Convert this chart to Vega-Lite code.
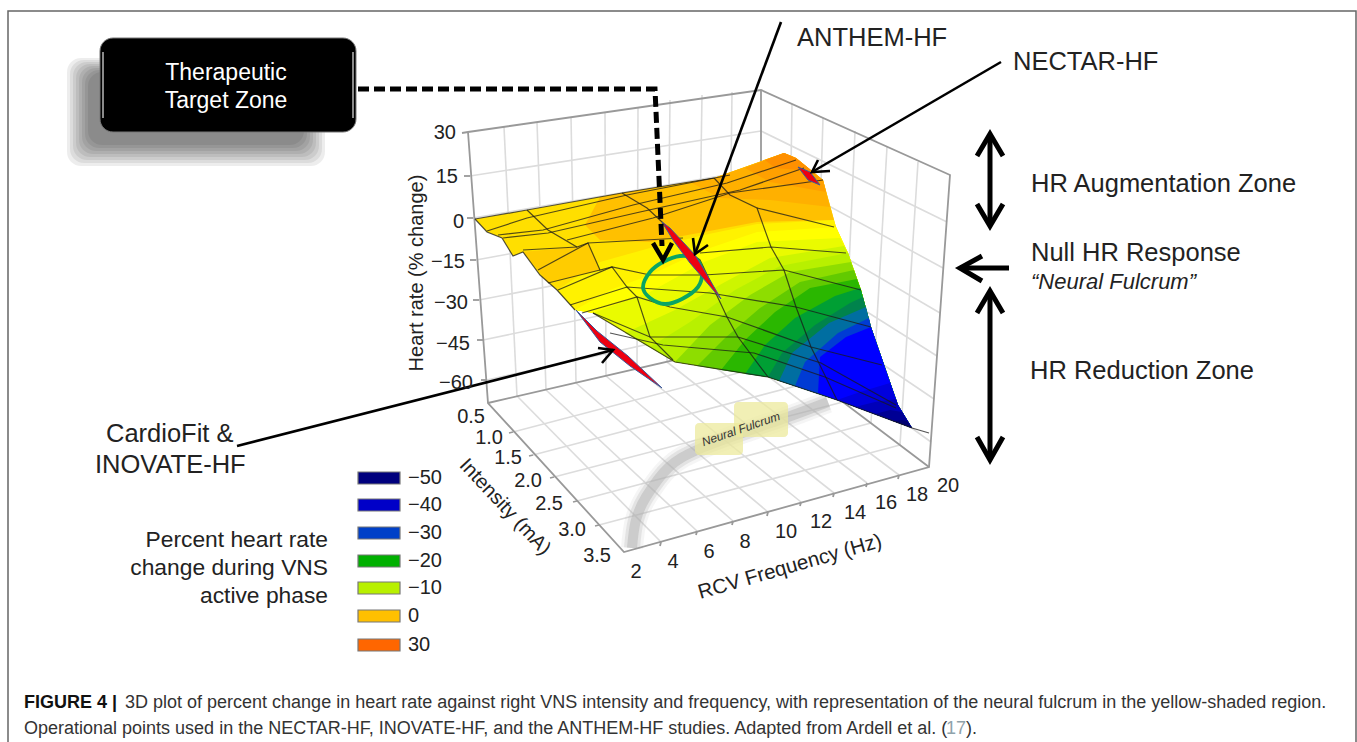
{"$schema":"https://vega.github.io/schema/vega-lite/v6.json","width":1357,"height":742,"padding":0,"autosize":{"type":"none"},"background":"white","config":{"view":{"stroke":null},"text":{"font":"Liberation Sans","color":"#222222"}},
"datasets":{
"frame":[{"g":1,"x":8,"y":742},{"g":1,"x":8,"y":11},{"g":1,"x":1356,"y":11},{"g":1,"x":1356,"y":742}],
"shadow":[{"x":67,"x2":325,"y":58,"y2":166},{"x":70,"x2":322,"y":60,"y2":163},{"x":73,"x2":319,"y":62,"y2":160},{"x":76,"x2":316,"y":64,"y2":157},{"x":79,"x2":313,"y":66,"y2":154},{"x":82,"x2":310,"y":68,"y2":151},{"x":85,"x2":307,"y":70,"y2":148},{"x":88,"x2":304,"y":72,"y2":145}],
"box":[{"x":100,"x2":356,"y":38,"y2":132}],
"boxshine":[{"g":1,"x":103,"y":52},{"g":1,"x":103,"y":118},{"g":2,"x":353,"y":52},{"g":2,"x":353,"y":118}],
"grid":[
{"g":1,"x":517,"y":396},{"g":1,"x":661,"y":542},{"g":2,"x":546,"y":390},{"g":2,"x":697,"y":531},{"g":3,"x":576,"y":383},{"g":3,"x":733,"y":521},{"g":4,"x":606,"y":376},{"g":4,"x":768,"y":512},{"g":5,"x":637,"y":369},{"g":5,"x":801,"y":502},{"g":6,"x":667,"y":362},{"g":6,"x":834,"y":493},{"g":7,"x":698,"y":354},{"g":7,"x":867,"y":483},{"g":8,"x":729,"y":347},{"g":8,"x":899,"y":475},
{"g":9,"x":513,"y":432},{"g":9,"x":788,"y":360},{"g":10,"x":533,"y":455},{"g":10,"x":815,"y":381},{"g":11,"x":554,"y":477},{"g":11,"x":843,"y":402},{"g":12,"x":577,"y":501},{"g":12,"x":871,"y":423},{"g":13,"x":599,"y":525},{"g":13,"x":900,"y":445},
{"g":14,"x":504,"y":127},{"g":14,"x":517,"y":396},{"g":15,"x":537,"y":122},{"g":15,"x":546,"y":390},{"g":16,"x":571,"y":117},{"g":16,"x":576,"y":383},{"g":17,"x":605,"y":112},{"g":17,"x":606,"y":376},{"g":18,"x":638,"y":107},{"g":18,"x":637,"y":369},{"g":19,"x":670,"y":100},{"g":19,"x":667,"y":362},{"g":20,"x":702,"y":95},{"g":20,"x":698,"y":354},{"g":21,"x":732,"y":92},{"g":21,"x":729,"y":347},
{"g":22,"x":470,"y":176},{"g":22,"x":761,"y":131},{"g":23,"x":473,"y":218},{"g":23,"x":761,"y":169},{"g":24,"x":476,"y":260},{"g":24,"x":761,"y":208},{"g":25,"x":479,"y":300},{"g":25,"x":761,"y":245},{"g":26,"x":483,"y":340},{"g":26,"x":761,"y":282},{"g":27,"x":487,"y":380},{"g":27,"x":761,"y":319},
{"g":28,"x":792,"y":104},{"g":28,"x":788,"y":360},{"g":29,"x":823,"y":118},{"g":29,"x":815,"y":381},{"g":30,"x":855,"y":131},{"g":30,"x":843,"y":402},{"g":31,"x":887,"y":147},{"g":31,"x":871,"y":423},{"g":32,"x":918,"y":162},{"g":32,"x":900,"y":445},
{"g":33,"x":761,"y":131},{"g":33,"x":947,"y":222},{"g":34,"x":761,"y":169},{"g":34,"x":943,"y":268},{"g":35,"x":761,"y":208},{"g":35,"x":940,"y":313},{"g":36,"x":761,"y":245},{"g":36,"x":937,"y":356},{"g":37,"x":761,"y":282},{"g":37,"x":934,"y":399},{"g":38,"x":761,"y":319},{"g":38,"x":931,"y":442}],
"edges":[
{"g":1,"x":462,"y":133},{"g":1,"x":468,"y":132},{"g":1,"x":761,"y":90},{"g":1,"x":950,"y":175},{"g":1,"x":929,"y":467},{"g":1,"x":624,"y":552},{"g":1,"x":488,"y":403},{"g":1,"x":468,"y":132},
{"g":2,"x":761,"y":90},{"g":2,"x":761,"y":340},{"g":3,"x":488,"y":403},{"g":3,"x":761,"y":340},{"g":3,"x":929,"y":467},
{"g":4,"x":464,"y":176},{"g":4,"x":470,"y":176},{"g":5,"x":467,"y":218},{"g":5,"x":473,"y":218},{"g":6,"x":470,"y":260},{"g":6,"x":476,"y":260},{"g":7,"x":473,"y":300},{"g":7,"x":479,"y":300},{"g":8,"x":477,"y":340},{"g":8,"x":483,"y":340},{"g":9,"x":481,"y":380},{"g":9,"x":487,"y":380},
{"g":10,"x":661,"y":542},{"g":10,"x":660,"y":546},{"g":11,"x":697,"y":531},{"g":11,"x":696,"y":535},{"g":12,"x":733,"y":521},{"g":12,"x":732,"y":525},{"g":13,"x":768,"y":512},{"g":13,"x":767,"y":516},{"g":14,"x":801,"y":502},{"g":14,"x":800,"y":506},{"g":15,"x":834,"y":493},{"g":15,"x":833,"y":497},{"g":16,"x":867,"y":483},{"g":16,"x":866,"y":487},{"g":17,"x":899,"y":475},{"g":17,"x":898,"y":479},
{"g":18,"x":513,"y":432},{"g":18,"x":509,"y":433},{"g":19,"x":533,"y":455},{"g":19,"x":529,"y":456},{"g":20,"x":554,"y":477},{"g":20,"x":550,"y":478},{"g":21,"x":577,"y":501},{"g":21,"x":573,"y":502},{"g":22,"x":599,"y":525},{"g":22,"x":595,"y":526}],
"fulcrum":[{"g":1,"x":632,"y":548},{"g":1,"x":636,"y":520},{"g":1,"x":646,"y":497},{"g":1,"x":669,"y":467},{"g":1,"x":697,"y":450},{"g":1,"x":745,"y":432},{"g":1,"x":788,"y":417},{"g":1,"x":828,"y":402}],
"highlight":[{"x":695,"x2":743,"y":423,"y2":455},{"x":734,"x2":788,"y":402,"y2":437}],
"surface":[
{"g":1,"hr":-2.5,"x":475,"y":219},{"g":1,"hr":-2.5,"x":527,"y":210},{"g":1,"hr":-2.5,"x":622,"y":193},{"g":1,"hr":-2.5,"x":714,"y":178},{"g":1,"hr":-2.5,"x":784,"y":153},{"g":1,"hr":-2.5,"x":796,"y":158},{"g":1,"hr":-2.5,"x":823,"y":180},{"g":1,"hr":-2.5,"x":836,"y":227},{"g":1,"hr":-2.5,"x":848,"y":253},{"g":1,"hr":-2.5,"x":861,"y":290},{"g":1,"hr":-2.5,"x":871,"y":327},{"g":1,"hr":-2.5,"x":898,"y":405},{"g":1,"hr":-2.5,"x":912,"y":428},{"g":1,"hr":-2.5,"x":837,"y":400},{"g":1,"hr":-2.5,"x":768,"y":377},{"g":1,"hr":-2.5,"x":675,"y":362},{"g":1,"hr":-2.5,"x":593,"y":313},{"g":1,"hr":-2.5,"x":575,"y":310},{"g":1,"hr":-2.5,"x":557,"y":290},{"g":1,"hr":-2.5,"x":540,"y":275},{"g":1,"hr":-2.5,"x":523,"y":252},{"g":1,"hr":-2.5,"x":513,"y":256},{"g":1,"hr":-2.5,"x":502,"y":238},{"g":1,"hr":-2.5,"x":487,"y":232},
{"g":2,"hr":0,"x":600,"y":197},{"g":2,"hr":0,"x":622,"y":193},{"g":2,"hr":0,"x":714,"y":178},{"g":2,"hr":0,"x":784,"y":153},{"g":2,"hr":0,"x":796,"y":158},{"g":2,"hr":0,"x":823,"y":180},{"g":2,"hr":0,"x":834,"y":220},{"g":2,"hr":0,"x":757,"y":222},{"g":2,"hr":0,"x":704,"y":232},{"g":2,"hr":0,"x":650,"y":242},{"g":2,"hr":0,"x":600,"y":240},{"g":2,"hr":0,"x":585,"y":225},
{"g":3,"hr":6,"x":690,"y":182},{"g":3,"hr":6,"x":714,"y":178},{"g":3,"hr":6,"x":784,"y":153},{"g":3,"hr":6,"x":796,"y":158},{"g":3,"hr":6,"x":823,"y":180},{"g":3,"hr":6,"x":830,"y":207},{"g":3,"hr":6,"x":770,"y":200},{"g":3,"hr":6,"x":720,"y":198},
{"g":4,"hr":12,"x":745,"y":168},{"g":4,"hr":12,"x":784,"y":153},{"g":4,"hr":12,"x":796,"y":158},{"g":4,"hr":12,"x":823,"y":180},{"g":4,"hr":12,"x":826,"y":192},{"g":4,"hr":12,"x":770,"y":182},
{"g":5,"hr":20,"x":765,"y":160},{"g":5,"hr":20,"x":784,"y":153},{"g":5,"hr":20,"x":796,"y":158},{"g":5,"hr":20,"x":812,"y":171},{"g":5,"hr":20,"x":775,"y":168},
{"g":6,"hr":-4,"x":557,"y":290},{"g":6,"hr":-4,"x":600,"y":262},{"g":6,"hr":-4,"x":650,"y":248},{"g":6,"hr":-4,"x":704,"y":235},{"g":6,"hr":-4,"x":757,"y":224},{"g":6,"hr":-4,"x":834,"y":220},{"g":6,"hr":-4,"x":836,"y":227},{"g":6,"hr":-4,"x":848,"y":253},{"g":6,"hr":-4,"x":861,"y":290},{"g":6,"hr":-4,"x":871,"y":327},{"g":6,"hr":-4,"x":898,"y":405},{"g":6,"hr":-4,"x":912,"y":428},{"g":6,"hr":-4,"x":837,"y":400},{"g":6,"hr":-4,"x":768,"y":377},{"g":6,"hr":-4,"x":675,"y":362},{"g":6,"hr":-4,"x":593,"y":313},{"g":6,"hr":-4,"x":575,"y":310},
{"g":7,"hr":-5,"x":575,"y":310},{"g":7,"hr":-5,"x":610,"y":290},{"g":7,"hr":-5,"x":650,"y":275},{"g":7,"hr":-5,"x":704,"y":250},{"g":7,"hr":-5,"x":757,"y":232},{"g":7,"hr":-5,"x":836,"y":227},{"g":7,"hr":-5,"x":848,"y":253},{"g":7,"hr":-5,"x":861,"y":290},{"g":7,"hr":-5,"x":871,"y":327},{"g":7,"hr":-5,"x":898,"y":405},{"g":7,"hr":-5,"x":912,"y":428},{"g":7,"hr":-5,"x":837,"y":400},{"g":7,"hr":-5,"x":768,"y":377},{"g":7,"hr":-5,"x":675,"y":362},{"g":7,"hr":-5,"x":593,"y":313},
{"g":8,"hr":-6.5,"x":593,"y":313},{"g":8,"hr":-6.5,"x":650,"y":292},{"g":8,"hr":-6.5,"x":704,"y":262},{"g":8,"hr":-6.5,"x":757,"y":242},{"g":8,"hr":-6.5,"x":840,"y":238},{"g":8,"hr":-6.5,"x":848,"y":253},{"g":8,"hr":-6.5,"x":861,"y":290},{"g":8,"hr":-6.5,"x":871,"y":327},{"g":8,"hr":-6.5,"x":898,"y":405},{"g":8,"hr":-6.5,"x":912,"y":428},{"g":8,"hr":-6.5,"x":837,"y":400},{"g":8,"hr":-6.5,"x":768,"y":377},{"g":8,"hr":-6.5,"x":675,"y":362},
{"g":9,"hr":-8.5,"x":625,"y":333},{"g":9,"hr":-8.5,"x":675,"y":310},{"g":9,"hr":-8.5,"x":725,"y":282},{"g":9,"hr":-8.5,"x":770,"y":258},{"g":9,"hr":-8.5,"x":844,"y":246},{"g":9,"hr":-8.5,"x":848,"y":253},{"g":9,"hr":-8.5,"x":861,"y":290},{"g":9,"hr":-8.5,"x":871,"y":327},{"g":9,"hr":-8.5,"x":898,"y":405},{"g":9,"hr":-8.5,"x":912,"y":428},{"g":9,"hr":-8.5,"x":837,"y":400},{"g":9,"hr":-8.5,"x":768,"y":377},{"g":9,"hr":-8.5,"x":675,"y":362},
{"g":10,"hr":-10,"x":650,"y":347},{"g":10,"hr":-10,"x":690,"y":322},{"g":10,"hr":-10,"x":735,"y":290},{"g":10,"hr":-10,"x":780,"y":266},{"g":10,"hr":-10,"x":848,"y":253},{"g":10,"hr":-10,"x":861,"y":290},{"g":10,"hr":-10,"x":871,"y":327},{"g":10,"hr":-10,"x":898,"y":405},{"g":10,"hr":-10,"x":912,"y":428},{"g":10,"hr":-10,"x":837,"y":400},{"g":10,"hr":-10,"x":768,"y":377},{"g":10,"hr":-10,"x":675,"y":362},
{"g":11,"hr":-13,"x":675,"y":362},{"g":11,"hr":-13,"x":710,"y":325},{"g":11,"hr":-13,"x":750,"y":295},{"g":11,"hr":-13,"x":790,"y":272},{"g":11,"hr":-13,"x":851,"y":262},{"g":11,"hr":-13,"x":861,"y":290},{"g":11,"hr":-13,"x":871,"y":327},{"g":11,"hr":-13,"x":898,"y":405},{"g":11,"hr":-13,"x":912,"y":428},{"g":11,"hr":-13,"x":837,"y":400},{"g":11,"hr":-13,"x":768,"y":377},
{"g":12,"hr":-16,"x":697,"y":366},{"g":12,"hr":-16,"x":725,"y":338},{"g":12,"hr":-16,"x":760,"y":308},{"g":12,"hr":-16,"x":800,"y":282},{"g":12,"hr":-16,"x":854,"y":270},{"g":12,"hr":-16,"x":861,"y":290},{"g":12,"hr":-16,"x":871,"y":327},{"g":12,"hr":-16,"x":898,"y":405},{"g":12,"hr":-16,"x":912,"y":428},{"g":12,"hr":-16,"x":837,"y":400},{"g":12,"hr":-16,"x":768,"y":377},
{"g":13,"hr":-19,"x":721,"y":370},{"g":13,"hr":-19,"x":745,"y":340},{"g":13,"hr":-19,"x":775,"y":312},{"g":13,"hr":-19,"x":810,"y":288},{"g":13,"hr":-19,"x":857,"y":279},{"g":13,"hr":-19,"x":861,"y":290},{"g":13,"hr":-19,"x":871,"y":327},{"g":13,"hr":-19,"x":898,"y":405},{"g":13,"hr":-19,"x":912,"y":428},{"g":13,"hr":-19,"x":837,"y":400},{"g":13,"hr":-19,"x":768,"y":377},
{"g":14,"hr":-22,"x":745,"y":374},{"g":14,"hr":-22,"x":765,"y":345},{"g":14,"hr":-22,"x":795,"y":318},{"g":14,"hr":-22,"x":835,"y":296},{"g":14,"hr":-22,"x":860,"y":288},{"g":14,"hr":-22,"x":861,"y":290},{"g":14,"hr":-22,"x":871,"y":327},{"g":14,"hr":-22,"x":898,"y":405},{"g":14,"hr":-22,"x":912,"y":428},{"g":14,"hr":-22,"x":837,"y":400},{"g":14,"hr":-22,"x":768,"y":377},
{"g":15,"hr":-25,"x":768,"y":377},{"g":15,"hr":-25,"x":782,"y":353},{"g":15,"hr":-25,"x":815,"y":325},{"g":15,"hr":-25,"x":850,"y":303},{"g":15,"hr":-25,"x":863,"y":297},{"g":15,"hr":-25,"x":871,"y":327},{"g":15,"hr":-25,"x":898,"y":405},{"g":15,"hr":-25,"x":912,"y":428},{"g":15,"hr":-25,"x":837,"y":400},
{"g":16,"hr":-28,"x":779,"y":381},{"g":16,"hr":-28,"x":792,"y":353},{"g":16,"hr":-28,"x":829,"y":323},{"g":16,"hr":-28,"x":866,"y":307},{"g":16,"hr":-28,"x":871,"y":327},{"g":16,"hr":-28,"x":898,"y":405},{"g":16,"hr":-28,"x":912,"y":428},{"g":16,"hr":-28,"x":837,"y":400},
{"g":17,"hr":-31,"x":795,"y":386},{"g":17,"hr":-31,"x":805,"y":362},{"g":17,"hr":-31,"x":838,"y":333},{"g":17,"hr":-31,"x":869,"y":318},{"g":17,"hr":-31,"x":871,"y":327},{"g":17,"hr":-31,"x":898,"y":405},{"g":17,"hr":-31,"x":912,"y":428},{"g":17,"hr":-31,"x":837,"y":400},
{"g":18,"hr":-35,"x":818,"y":393},{"g":18,"hr":-35,"x":820,"y":357},{"g":18,"hr":-35,"x":846,"y":337},{"g":18,"hr":-35,"x":871,"y":327},{"g":18,"hr":-35,"x":898,"y":405},{"g":18,"hr":-35,"x":912,"y":428},{"g":18,"hr":-35,"x":837,"y":400},
{"g":19,"hr":-38,"x":837,"y":400},{"g":19,"hr":-38,"x":860,"y":392},{"g":19,"hr":-38,"x":890,"y":383},{"g":19,"hr":-38,"x":898,"y":405},{"g":19,"hr":-38,"x":912,"y":428},
{"g":20,"hr":-42,"x":855,"y":407},{"g":20,"hr":-42,"x":875,"y":402},{"g":20,"hr":-42,"x":896,"y":399},{"g":20,"hr":-42,"x":898,"y":405},{"g":20,"hr":-42,"x":912,"y":428},
{"g":21,"hr":-47,"x":875,"y":414},{"g":21,"hr":-47,"x":890,"y":410},{"g":21,"hr":-47,"x":902,"y":412},{"g":21,"hr":-47,"x":912,"y":428},
{"g":22,"hr":-52,"x":893,"y":421},{"g":22,"hr":-52,"x":902,"y":420},{"g":22,"hr":-52,"x":907,"y":421},{"g":22,"hr":-52,"x":912,"y":428},
{"g":23,"hr":-1,"x":523,"y":252},{"g":23,"hr":-1,"x":577,"y":247},{"g":23,"hr":-1,"x":588,"y":243},{"g":23,"hr":-1,"x":600,"y":270},{"g":23,"hr":-1,"x":548,"y":283},{"g":23,"hr":-1,"x":538,"y":270}],
"mesh":[
{"g":1,"x":527,"y":210},{"g":1,"x":548,"y":230},{"g":1,"x":577,"y":247},{"g":1,"x":588,"y":243},{"g":1,"x":600,"y":270},{"g":1,"x":612,"y":267},{"g":1,"x":627,"y":287},{"g":1,"x":637,"y":297},{"g":1,"x":650,"y":337},{"g":1,"x":673,"y":360},
{"g":2,"x":622,"y":193},{"g":2,"x":647,"y":208},{"g":2,"x":662,"y":222},{"g":2,"x":682,"y":247},{"g":2,"x":700,"y":260},{"g":2,"x":711,"y":283},{"g":2,"x":727,"y":317},{"g":2,"x":738,"y":337},{"g":2,"x":768,"y":377},
{"g":3,"x":714,"y":178},{"g":3,"x":730,"y":195},{"g":3,"x":757,"y":208},{"g":3,"x":771,"y":247},{"g":3,"x":784,"y":270},{"g":3,"x":796,"y":307},{"g":3,"x":811,"y":347},{"g":3,"x":837,"y":400},
{"g":4,"x":487,"y":231},{"g":4,"x":527,"y":218},{"g":4,"x":627,"y":195},{"g":4,"x":730,"y":175},
{"g":5,"x":498,"y":235},{"g":5,"x":543,"y":230},{"g":5,"x":633,"y":205},{"g":5,"x":727,"y":183},{"g":5,"x":796,"y":160},
{"g":6,"x":503,"y":238},{"g":6,"x":548,"y":233},{"g":6,"x":640,"y":212},{"g":6,"x":740,"y":190},{"g":6,"x":804,"y":168},
{"g":7,"x":567,"y":240},{"g":7,"x":653,"y":218},{"g":7,"x":730,"y":193},{"g":7,"x":823,"y":180},
{"g":8,"x":523,"y":250},{"g":8,"x":577,"y":247},
{"g":17,"x":538,"y":270},{"g":17,"x":588,"y":243},{"g":17,"x":683,"y":238},
{"g":18,"x":548,"y":283},{"g":18,"x":600,"y":270},
{"g":19,"x":558,"y":290},{"g":19,"x":612,"y":267},{"g":19,"x":650,"y":275},{"g":19,"x":704,"y":275},{"g":19,"x":784,"y":270},{"g":19,"x":861,"y":290},
{"g":9,"x":700,"y":253},{"g":9,"x":771,"y":247},{"g":9,"x":846,"y":253},
{"g":10,"x":757,"y":208},{"g":10,"x":834,"y":227},
{"g":12,"x":570,"y":305},{"g":12,"x":627,"y":287},{"g":12,"x":710,"y":293},{"g":12,"x":796,"y":307},{"g":12,"x":871,"y":327},
{"g":13,"x":582,"y":313},{"g":13,"x":637,"y":297},{"g":13,"x":670,"y":307},{"g":13,"x":727,"y":317},{"g":13,"x":811,"y":347},{"g":13,"x":882,"y":365},
{"g":14,"x":593,"y":313},{"g":14,"x":650,"y":337},{"g":14,"x":738,"y":337},{"g":14,"x":821,"y":363},{"g":14,"x":896,"y":405},
{"g":15,"x":610,"y":333},{"g":15,"x":663,"y":345},{"g":15,"x":754,"y":353},{"g":15,"x":825,"y":377},{"g":15,"x":896,"y":408},
{"g":16,"x":912,"y":428},{"g":16,"x":929,"y":433},
{"g":20,"x":475,"y":219},{"g":20,"x":527,"y":210},{"g":20,"x":622,"y":193},{"g":20,"x":714,"y":178},
{"g":21,"x":475,"y":219},{"g":21,"x":487,"y":232},{"g":21,"x":502,"y":238},{"g":21,"x":513,"y":256},{"g":21,"x":523,"y":252},{"g":21,"x":540,"y":275},{"g":21,"x":557,"y":290},{"g":21,"x":575,"y":310},
{"g":22,"x":593,"y":313},{"g":22,"x":675,"y":362},{"g":22,"x":768,"y":377},{"g":22,"x":837,"y":400},{"g":22,"x":912,"y":428}],
"sliver":[
{"g":1,"x":662,"y":222},{"g":1,"x":670,"y":228},{"g":1,"x":695,"y":255},{"g":1,"x":703,"y":268},{"g":1,"x":721,"y":299},{"g":1,"x":690,"y":263},{"g":1,"x":673,"y":240},{"g":1,"x":662,"y":222},
{"g":2,"x":576,"y":310},{"g":2,"x":597,"y":331},{"g":2,"x":628,"y":356},{"g":2,"x":662,"y":388},{"g":2,"x":630,"y":366},{"g":2,"x":600,"y":342},{"g":2,"x":576,"y":310},
{"g":3,"x":798,"y":167},{"g":3,"x":810,"y":172},{"g":3,"x":820,"y":185},{"g":3,"x":808,"y":180},{"g":3,"x":798,"y":167}],
"ellipse":[{"g":1,"x":643,"y":287},{"g":1,"x":650,"y":272},{"g":1,"x":663,"y":262},{"g":1,"x":680,"y":256},{"g":1,"x":696,"y":259},{"g":1,"x":702,"y":272},{"g":1,"x":698,"y":287},{"g":1,"x":682,"y":299},{"g":1,"x":665,"y":304},{"g":1,"x":650,"y":298}],
"arrows":[
{"g":1,"x":781,"y":22},{"g":1,"x":695,"y":254},{"g":2,"x":693,"y":238},{"g":2,"x":695,"y":254},{"g":2,"x":708,"y":245},
{"g":3,"x":1001,"y":62},{"g":3,"x":812,"y":172},{"g":4,"x":818,"y":160},{"g":4,"x":812,"y":172},{"g":4,"x":830,"y":171},
{"g":5,"x":237,"y":446},{"g":5,"x":613,"y":350},{"g":6,"x":598,"y":348},{"g":6,"x":613,"y":350},{"g":6,"x":602,"y":363}],
"dashed":[{"g":1,"x":358,"y":89},{"g":1,"x":655,"y":89},{"g":1,"x":662,"y":246}],
"dashedHead":[{"g":1,"x":653,"y":243},{"g":1,"x":663,"y":260},{"g":1,"x":672,"y":243}],
"zones":[
{"g":1,"x":990,"y":134},{"g":1,"x":990,"y":225},{"g":2,"x":977,"y":156},{"g":2,"x":990,"y":134},{"g":2,"x":1003,"y":156},{"g":3,"x":977,"y":204},{"g":3,"x":990,"y":226},{"g":3,"x":1003,"y":204},
{"g":4,"x":1009,"y":268},{"g":4,"x":960,"y":268},{"g":5,"x":982,"y":256},{"g":5,"x":960,"y":268},{"g":5,"x":982,"y":281},
{"g":6,"x":990,"y":291},{"g":6,"x":990,"y":459},{"g":7,"x":977,"y":313},{"g":7,"x":990,"y":291},{"g":7,"x":1003,"y":313},{"g":8,"x":977,"y":437},{"g":8,"x":990,"y":460},{"g":8,"x":1003,"y":437}],
"legend":[
{"hr":-50,"label":"−50","x":358,"x2":400,"y":472,"y2":484,"lx":408,"ly":478},
{"hr":-40,"label":"−40","x":358,"x2":400,"y":499,"y2":511,"lx":408,"ly":505},
{"hr":-30,"label":"−30","x":358,"x2":400,"y":527,"y2":539,"lx":408,"ly":533},
{"hr":-20,"label":"−20","x":358,"x2":400,"y":555,"y2":567,"lx":408,"ly":561},
{"hr":-10,"label":"−10","x":358,"x2":400,"y":582,"y2":594,"lx":408,"ly":588},
{"hr":0,"label":"0","x":358,"x2":400,"y":610,"y2":622,"lx":408,"ly":616},
{"hr":30,"label":"30","x":358,"x2":400,"y":639,"y2":651,"lx":408,"ly":645}],
"zticks":[{"label":"30","x":456,"y":133},{"label":"15","x":458,"y":177},{"label":"0","x":464,"y":222},{"label":"−15","x":465,"y":262},{"label":"−30","x":468,"y":303},{"label":"−45","x":470,"y":344},{"label":"−60","x":473,"y":383},
{"label":"0.5","x":485,"y":417},{"label":"1.0","x":503,"y":438},{"label":"1.5","x":522,"y":458},{"label":"2.0","x":542,"y":481},{"label":"2.5","x":563,"y":504},{"label":"3.0","x":586,"y":530},{"label":"3.5","x":611,"y":556}],
"fticks":[{"label":"2","x":636,"y":572},{"label":"4","x":673,"y":562},{"label":"6","x":709,"y":552},{"label":"8","x":745,"y":542},{"label":"10","x":786,"y":532},{"label":"12","x":821,"y":522},{"label":"14","x":855,"y":513},{"label":"16","x":886,"y":503},{"label":"18","x":917,"y":495},{"label":"20","x":948,"y":486}],
"big":[{"label":"ANTHEM-HF","x":797,"y":38},{"label":"NECTAR-HF","x":1013,"y":62},{"label":"HR Augmentation Zone","x":1031,"y":184},{"label":"Null HR Response","x":1031,"y":253},{"label":"HR Reduction Zone","x":1030,"y":371},{"label":"CardioFit &","x":106,"y":434},{"label":"INOVATE-HF","x":95,"y":465}],
"boxtext":[{"label":"Therapeutic","x":226,"y":73},{"label":"Target Zone","x":226,"y":101}],
"pct":[{"label":"Percent heart rate","x":328,"y":540},{"label":"change during VNS","x":328,"y":568},{"label":"active phase","x":328,"y":596}],
"nf":[{"label":"“Neural Fulcrum”","x":1031,"y":282}],
"ztitle":[{"label":"Heart rate (% change)","x":417,"y":273}],
"ititle":[{"label":"Intensity (mA)","x":505,"y":507}],
"ftitle":[{"label":"RCV Frequency (Hz)","x":790,"y":567}],
"nftext":[{"label":"Neural Fulcrum","x":741,"y":429}],
"capb":[{"label":"FIGURE 4 |","x":24,"y":703}],
"cap":[{"label":"3D plot of percent change in heart rate against right VNS intensity and frequency, with representation of the neural fulcrum in the yellow-shaded region.","x":125,"y":703},{"label":"Operational points used in the NECTAR-HF, INOVATE-HF, and the ANTHEM-HF studies. Adapted from Ardell et al. (","x":24,"y":729},{"label":").","x":966,"y":729}],
"capref":[{"label":"17","x":946,"y":729}]
},
"encoding":{"x":{"field":"x","type":"quantitative","scale":{"domain":[0,1357],"nice":false,"zero":false},"axis":null},"y":{"field":"y","type":"quantitative","scale":{"domain":[742,0],"nice":false,"zero":false},"axis":null}},
"layer":[
{"data":{"name":"frame"},"transform":[{"window":[{"op":"row_number","as":"i"}]}],"mark":{"type":"line","stroke":"#666666","strokeWidth":1.5},"encoding":{"detail":{"field":"g"},"order":{"field":"i","type":"quantitative"}}},
{"data":{"name":"shadow"},"mark":{"type":"rect","fill":"#000000","opacity":0.07,"cornerRadius":14},"encoding":{"x2":{"field":"x2"},"y2":{"field":"y2"}}},
{"data":{"name":"box"},"mark":{"type":"rect","fill":"#000000","stroke":"#777777","strokeWidth":1,"cornerRadius":13},"encoding":{"x2":{"field":"x2"},"y2":{"field":"y2"}}},
{"data":{"name":"boxshine"},"transform":[{"window":[{"op":"row_number","as":"i"}]}],"mark":{"type":"line","stroke":"#8a8a8a","strokeWidth":2},"encoding":{"detail":{"field":"g"},"order":{"field":"i","type":"quantitative"}}},
{"data":{"name":"boxtext"},"mark":{"type":"text","align":"center","baseline":"middle","fontSize":23,"color":"#ffffff"},"encoding":{"text":{"field":"label"}}},
{"data":{"name":"grid"},"transform":[{"window":[{"op":"row_number","as":"i"}]}],"mark":{"type":"line","stroke":"#dcdcdc","strokeWidth":1.6},"encoding":{"detail":{"field":"g"},"order":{"field":"i","type":"quantitative"}}},
{"data":{"name":"fulcrum"},"transform":[{"window":[{"op":"row_number","as":"i"}]}],"mark":{"type":"line","stroke":"#b0b0b0","strokeWidth":22,"opacity":0.12,"interpolate":"cardinal"},"encoding":{"detail":{"field":"g"},"order":{"field":"i","type":"quantitative"}}},
{"data":{"name":"fulcrum"},"transform":[{"window":[{"op":"row_number","as":"i"}]}],"mark":{"type":"line","stroke":"#b0b0b0","strokeWidth":16,"opacity":0.25,"interpolate":"cardinal"},"encoding":{"detail":{"field":"g"},"order":{"field":"i","type":"quantitative"}}},
{"data":{"name":"fulcrum"},"transform":[{"window":[{"op":"row_number","as":"i"}]}],"mark":{"type":"line","stroke":"#b0b0b0","strokeWidth":10,"opacity":0.45,"interpolate":"cardinal"},"encoding":{"detail":{"field":"g"},"order":{"field":"i","type":"quantitative"}}},
{"data":{"name":"edges"},"transform":[{"window":[{"op":"row_number","as":"i"}]}],"mark":{"type":"line","stroke":"#999999","strokeWidth":1.8},"encoding":{"detail":{"field":"g"},"order":{"field":"i","type":"quantitative"}}},
{"data":{"name":"highlight"},"mark":{"type":"rect","fill":"#ecea9c","opacity":0.75,"cornerRadius":4},"encoding":{"x2":{"field":"x2"},"y2":{"field":"y2"}}},
{"data":{"name":"nftext"},"mark":{"type":"text","align":"center","baseline":"middle","fontSize":12,"fontStyle":"italic","angle":341,"color":"#333333"},"encoding":{"text":{"field":"label"}}},
{"data":{"name":"surface"},"transform":[{"window":[{"op":"row_number","as":"i"}]}],"mark":{"type":"line","strokeWidth":0},"encoding":{"detail":{"field":"g"},"order":{"field":"i","type":"quantitative"},"fill":{"field":"hr","type":"quantitative","legend":null,"scale":{"domain":[-52,-40,-35,-30,-26,-20,-10,-5,0,6,12,20,30],"range":["#000070","#0000c8","#0000ff","#0040c8","#007a50","#00b000","#b8f000","#ffff00","#ffc000","#ffb000","#ffa000","#ff9000","#ff6600"]}}}},
{"data":{"name":"mesh"},"transform":[{"window":[{"op":"row_number","as":"i"}]}],"mark":{"type":"line","stroke":"#1a1a1a","strokeWidth":1.2,"opacity":0.75},"encoding":{"detail":{"field":"g"},"order":{"field":"i","type":"quantitative"}}},
{"data":{"name":"ellipse"},"transform":[{"window":[{"op":"row_number","as":"i"}]}],"mark":{"type":"line","stroke":"#0aa564","strokeWidth":3.8,"interpolate":"cardinal-closed"},"encoding":{"detail":{"field":"g"},"order":{"field":"i","type":"quantitative"}}},
{"data":{"name":"sliver"},"transform":[{"window":[{"op":"row_number","as":"i"}]}],"mark":{"type":"line","fill":"#ee0010","stroke":"#3a5a9a","strokeWidth":1},"encoding":{"detail":{"field":"g"},"order":{"field":"i","type":"quantitative"}}},
{"data":{"name":"arrows"},"transform":[{"window":[{"op":"row_number","as":"i"}]}],"mark":{"type":"line","stroke":"#000000","strokeWidth":2.6},"encoding":{"detail":{"field":"g"},"order":{"field":"i","type":"quantitative"}}},
{"data":{"name":"dashed"},"transform":[{"window":[{"op":"row_number","as":"i"}]}],"mark":{"type":"line","stroke":"#000000","strokeWidth":5,"strokeDash":[11,5]},"encoding":{"detail":{"field":"g"},"order":{"field":"i","type":"quantitative"}}},
{"data":{"name":"dashedHead"},"transform":[{"window":[{"op":"row_number","as":"i"}]}],"mark":{"type":"line","stroke":"#000000","strokeWidth":4.5},"encoding":{"detail":{"field":"g"},"order":{"field":"i","type":"quantitative"}}},
{"data":{"name":"zones"},"transform":[{"window":[{"op":"row_number","as":"i"}]}],"mark":{"type":"line","stroke":"#000000","strokeWidth":5},"encoding":{"detail":{"field":"g"},"order":{"field":"i","type":"quantitative"}}},
{"data":{"name":"legend"},"mark":{"type":"rect","stroke":"#777777","strokeWidth":1.2},"encoding":{"x2":{"field":"x2"},"y2":{"field":"y2"},"fill":{"field":"hr","type":"quantitative","legend":null,"scale":{"domain":[-52,-40,-35,-30,-26,-20,-10,-5,0,6,12,20,30],"range":["#000070","#0000c8","#0000ff","#0040c8","#007a50","#00b000","#b8f000","#ffff00","#ffc000","#ffb000","#ffa000","#ff9000","#ff6600"]}}}},
{"data":{"name":"legend"},"mark":{"type":"text","align":"left","baseline":"middle","fontSize":20},"encoding":{"x":{"field":"lx","type":"quantitative"},"y":{"field":"ly","type":"quantitative"},"text":{"field":"label"}}},
{"data":{"name":"zticks"},"mark":{"type":"text","align":"right","baseline":"middle","fontSize":20},"encoding":{"text":{"field":"label"}}},
{"data":{"name":"fticks"},"mark":{"type":"text","align":"center","baseline":"middle","fontSize":20},"encoding":{"text":{"field":"label"}}},
{"data":{"name":"big"},"mark":{"type":"text","align":"left","baseline":"middle","fontSize":25.5},"encoding":{"text":{"field":"label"}}},
{"data":{"name":"pct"},"mark":{"type":"text","align":"right","baseline":"middle","fontSize":22.8},"encoding":{"text":{"field":"label"}}},
{"data":{"name":"nf"},"mark":{"type":"text","align":"left","baseline":"middle","fontSize":22,"fontStyle":"italic"},"encoding":{"text":{"field":"label"}}},
{"data":{"name":"ztitle"},"mark":{"type":"text","align":"center","baseline":"middle","fontSize":20,"angle":270},"encoding":{"text":{"field":"label"}}},
{"data":{"name":"ititle"},"mark":{"type":"text","align":"center","baseline":"middle","fontSize":20,"angle":47},"encoding":{"text":{"field":"label"}}},
{"data":{"name":"ftitle"},"mark":{"type":"text","align":"center","baseline":"middle","fontSize":20.5,"angle":344},"encoding":{"text":{"field":"label"}}},
{"data":{"name":"capb"},"mark":{"type":"text","align":"left","baseline":"middle","fontSize":18,"fontWeight":"bold","color":"#111111"},"encoding":{"text":{"field":"label"}}},
{"data":{"name":"cap"},"mark":{"type":"text","align":"left","baseline":"middle","fontSize":18,"color":"#333333"},"encoding":{"text":{"field":"label"}}},
{"data":{"name":"capref"},"mark":{"type":"text","align":"left","baseline":"middle","fontSize":18,"color":"#8fa3ab"},"encoding":{"text":{"field":"label"}}}
]}
